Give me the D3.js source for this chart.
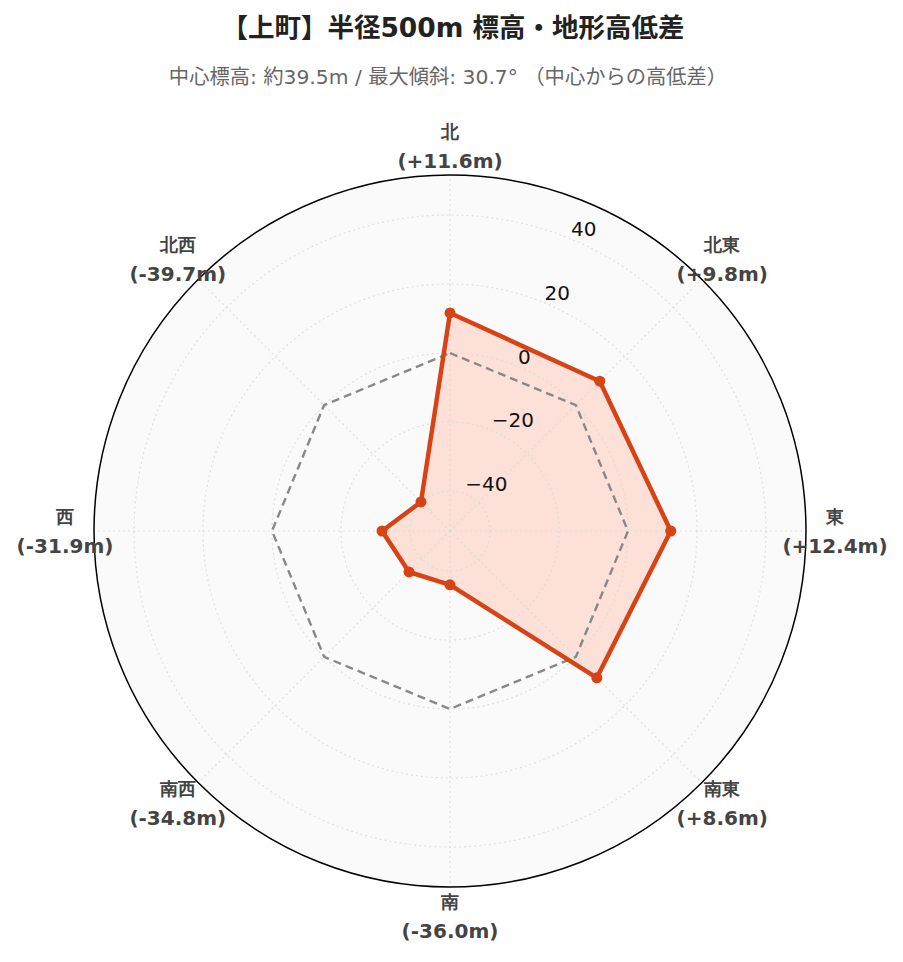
<!DOCTYPE html>
<html><head><meta charset="utf-8">
<script src="https://cdn.jsdelivr.net/npm/d3@7"></script>
<style>body{margin:0;background:#fff;}svg{display:block;}</style>
</head><body>
<script>
const directions = ["北","北東","東","南東","南","南西","西","北西"];
const diffs = [11.6, 9.8, 12.4, 8.6, -36.0, -34.8, -31.9, -39.7];
const baseline = [0,0,0,0,0,0,0,0];
const radialTicks = [-40,-20,0,20,40];
const titleText = "【上町】半径500m 標高・地形高低差";
const subtitleText = "中心標高: 約39.5m / 最大傾斜: 30.7° （中心からの高低差）";

const W=903,H=962,cx=450,cy=531,R=356;
const svg=d3.select("body").append("svg").attr("width",W).attr("height",H);
const r=d3.scaleLinear().domain([-51.6,51.6]).range([0,R]);
const ang=d3.scaleLinear().domain([0,8]).range([0,2*Math.PI]);
const g=svg.append("g").attr("transform",`translate(${cx},${cy})`);
const pt=(i,v)=>[r(v)*Math.sin(ang(i)), -r(v)*Math.cos(ang(i))];

g.append("circle").attr("r",R).attr("fill","#fafafa");
const line=d3.lineRadial().angle((d,i)=>ang(i)).radius(d=>r(d)).curve(d3.curveLinearClosed);
g.append("path").attr("d",line(diffs)).attr("fill","rgb(253,223,215)").attr("fill-opacity",0.95).attr("stroke","none");

radialTicks.forEach(t=>g.append("circle").attr("r",r(t)).attr("fill","none").attr("stroke","#dadada").attr("stroke-opacity",0.8).attr("stroke-width",1.2).attr("stroke-dasharray","2,3"));
directions.forEach((d,i)=>{const a=ang(i);g.append("line").attr("x1",0).attr("y1",0).attr("x2",R*Math.sin(a)).attr("y2",-R*Math.cos(a)).attr("stroke","#dadada").attr("stroke-opacity",0.8).attr("stroke-width",1.2).attr("stroke-dasharray","2,3");});

g.append("path").attr("d",line(baseline)).attr("fill","none").attr("stroke","#888").attr("stroke-width",2.4).attr("stroke-dasharray","8,5");
g.append("path").attr("d",line(diffs)).attr("fill","none").attr("stroke","#d84315").attr("stroke-width",4.5).attr("stroke-linejoin","round");
diffs.forEach((v,i)=>{const p=pt(i,v);g.append("circle").attr("cx",p[0]).attr("cy",p[1]).attr("r",5.5).attr("fill","#d84315");});

g.append("circle").attr("r",R).attr("fill","none").attr("stroke","#000").attr("stroke-width",1.5);

// radial tick labels
const ra=Math.PI/8;
radialTicks.forEach(t=>{g.append("text").attr("x",r(t)*Math.sin(ra)).attr("y",-r(t)*Math.cos(ra)-3)
 .attr("text-anchor","start").attr("font-family","DejaVu Sans").attr("font-size",20).attr("fill","#111")
 .text(t<0?"\u2212"+Math.abs(t):String(t));});

// angular labels
directions.forEach((d,i)=>{const a=ang(i),rr=385;const x=rr*Math.sin(a),y=-rr*Math.cos(a);
 const s=diffs[i]>=0?"+":"-";
 const t=g.append("text").attr("text-anchor","middle").attr("font-family","DejaVu Sans").attr("font-weight","bold").attr("fill","#444");
 t.append("tspan").attr("x",x).attr("y",y-8).attr("font-size",18).text(d);
 t.append("tspan").attr("x",x).attr("y",y+22).attr("font-size",20).text(`(${s}${Math.abs(diffs[i]).toFixed(1)}m)`);});

svg.append("text").attr("x",453).attr("y",37).attr("text-anchor","middle").attr("font-family","DejaVu Sans, Noto Sans CJK JP").attr("font-weight","bold").attr("font-size",26.5).attr("fill","#222").text(titleText);
svg.append("text").attr("x",448).attr("y",84).attr("text-anchor","middle").attr("font-family","DejaVu Sans, Noto Sans CJK JP").attr("font-size",20.3).attr("fill","#666").text(subtitleText);
</script>
</body></html>
